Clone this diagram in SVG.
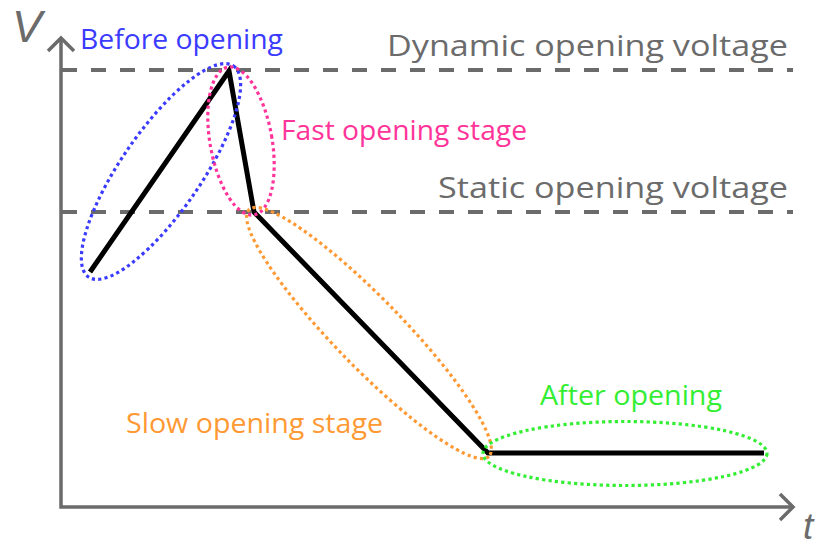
<svg xmlns="http://www.w3.org/2000/svg" width="823" height="549" viewBox="0 0 823 549">
<style>
.axis{stroke:#6b6b6b;stroke-width:3.5;fill:none}
.dash{stroke:#6b6b6b;stroke-width:4;stroke-dasharray:15 14;fill:none}
.gray{fill:#6b6b6b;font-family:"Open Sans","Liberation Sans",Arial,sans-serif;font-size:29px}
.lbl{font-family:"Open Sans","Liberation Sans",Arial,sans-serif;font-size:26.5px}
.dot{fill:none;stroke-width:3.2;stroke-dasharray:3.2 3.2}
.curve{fill:none;stroke:#000;stroke-width:5;stroke-linejoin:miter}
</style>
<rect width="823" height="549" fill="#fff"/>
<g id="axes">
<polyline class="axis" points="61,38 61,507 793,507"/>
<polyline class="axis" points="48,51 61,38 74,51"/>
<polyline class="axis" points="780,494 793,507 780,520"/>
<text x="12" y="42" style="fill:#6b6b6b;font-family:'Liberation Sans',Arial,sans-serif;font-size:45px;font-style:italic">V</text>
<text x="803" y="539" style="fill:#6b6b6b;font-family:'Liberation Sans',Arial,sans-serif;font-size:37px;font-style:italic">t</text>
</g>
<g id="dynamic">
<line class="dash" x1="62" y1="70" x2="793" y2="70"/>
<text class="gray" x="387" y="56" textLength="401" lengthAdjust="spacingAndGlyphs">Dynamic opening voltage</text>
</g>
<g id="static">
<line class="dash" x1="62" y1="212" x2="793" y2="212"/>
<text class="gray" x="438" y="198" textLength="350" lengthAdjust="spacingAndGlyphs">Static opening voltage</text>
</g>
<g id="curve">
<polyline class="curve" points="90,272 229,71 254,212 488,453 764,453"/>
</g>
<g id="before">
<ellipse class="dot" stroke="#3b3bff" cx="161" cy="171.5" rx="128" ry="40" transform="rotate(-55.5 161 171.5)"/>
<text class="lbl" fill="#3b3bff" x="80" y="49" textLength="203" lengthAdjust="spacingAndGlyphs">Before opening</text>
</g>
<g id="fast">
<ellipse class="dot" stroke="#ff3399" cx="241" cy="141" rx="31" ry="75" transform="rotate(-10 241 141)"/>
<text class="lbl" fill="#ff3399" x="281" y="140" textLength="246" lengthAdjust="spacingAndGlyphs">Fast opening stage</text>
</g>
<g id="slow">
<ellipse class="dot" stroke="#ff9933" cx="369" cy="333" rx="172" ry="34" transform="rotate(45.8 369 333)"/>
<text class="lbl" fill="#ff9933" x="126" y="433" textLength="257" lengthAdjust="spacingAndGlyphs">Slow opening stage</text>
</g>
<g id="after">
<ellipse class="dot" stroke="#33ee33" cx="625" cy="453.5" rx="142" ry="32"/>
<text class="lbl" fill="#33ee33" x="540" y="405" textLength="182" lengthAdjust="spacingAndGlyphs">After opening</text>
</g>
</svg>
